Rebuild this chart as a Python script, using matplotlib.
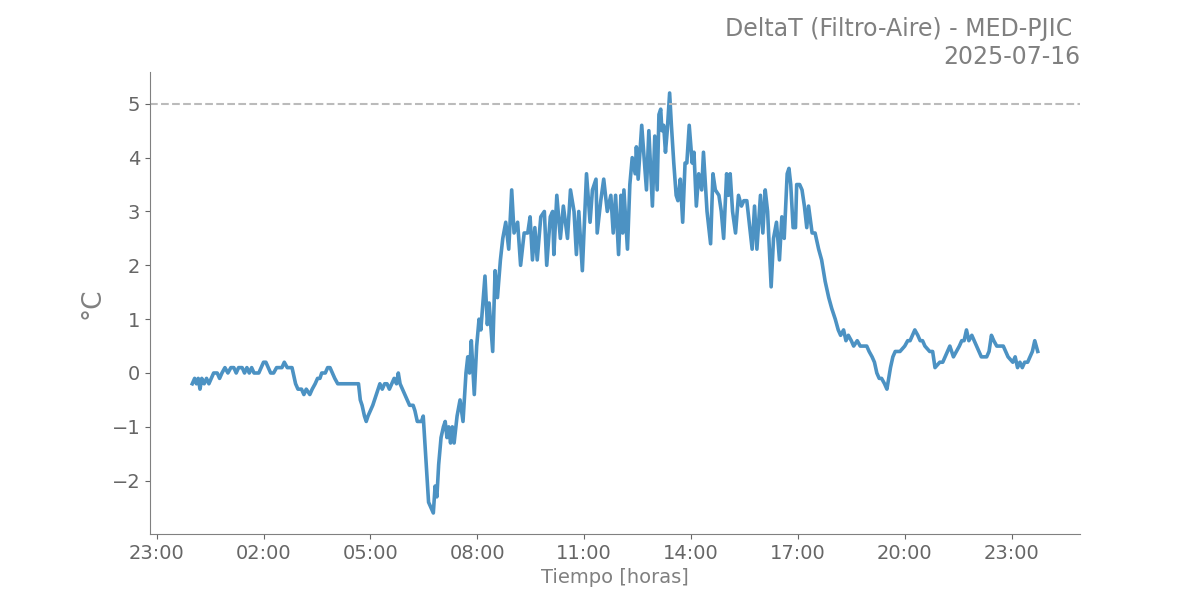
import matplotlib
matplotlib.use("Agg")
import matplotlib.pyplot as plt
import matplotlib.dates as mdates
import pandas as pd

fecha = "2025-07-16"
estacion = "MED-PJIC"
umbral = 5.0

horas = [
    "00:00", "00:04", "00:07", "00:10", "00:13", "00:16", "00:20", "00:24", "00:28", "00:32",
    "00:36", "00:42", "00:46", "00:50", "00:55", "01:00", "01:05", "01:10", "01:14", "01:18",
    "01:24", "01:28", "01:32", "01:36", "01:40", "01:44", "01:52", "01:56", "02:00", "02:04",
    "02:08", "02:12", "02:17", "02:22", "02:27", "02:31", "02:35", "02:40", "02:48", "02:54",
    "02:58", "03:04", "03:08", "03:12", "03:18", "03:22", "03:27", "03:31", "03:35", "03:38",
    "03:44", "03:48", "03:52", "03:56", "04:00", "04:05", "04:40", "04:43", "04:46", "04:50",
    "04:53", "04:56", "05:00", "05:04", "05:07", "05:10", "05:13", "05:16", "05:20", "05:24",
    "05:28", "05:32", "05:36", "05:40", "05:44", "05:47", "05:50", "05:54", "05:58", "06:02",
    "06:06", "06:12", "06:15", "06:19", "06:26", "06:29", "06:33", "06:38", "06:42", "06:46",
    "06:49", "06:52", "06:55", "06:59", "07:03", "07:06", "07:09", "07:12", "07:15", "07:18",
    "07:21", "07:26", "07:31", "07:36", "07:41", "07:44", "07:47", "07:50", "07:55", "07:59",
    "08:03", "08:06", "08:13", "08:17", "08:20", "08:26", "08:30", "08:34", "08:39", "08:43",
    "08:48", "08:53", "08:58", "09:02", "09:08", "09:13", "09:19", "09:25", "09:29", "09:33",
    "09:37", "09:41", "09:47", "09:53", "09:57", "10:03", "10:07", "10:09", "10:14", "10:20",
    "10:25", "10:32", "10:37", "10:43", "10:47", "10:51", "10:57", "11:04", "11:10", "11:14",
    "11:20", "11:22", "11:28", "11:33", "11:39", "11:45", "11:49", "11:53", "11:58", "12:02",
    "12:05", "12:07", "12:13", "12:17", "12:21", "12:26", "12:28", "12:31", "12:37", "12:41",
    "12:45", "12:49", "12:55", "12:59", "13:03", "13:06", "13:09", "13:11", "13:14", "13:17",
    "13:20", "13:24", "13:27", "13:31", "13:35", "13:38", "13:42", "13:46", "13:50", "13:53",
    "13:57", "14:02", "14:05", "14:09", "14:13", "14:18", "14:21", "14:27", "14:33", "14:37",
    "14:41", "14:47", "14:51", "14:55", "15:00", "15:03", "15:06", "15:10", "15:15", "15:20",
    "15:25", "15:29", "15:34", "15:37", "15:43", "15:47", "15:51", "15:57", "16:01", "16:05",
    "16:09", "16:15", "16:19", "16:24", "16:29", "16:33", "16:37", "16:42", "16:45", "16:48",
    "16:52", "16:56", "16:58", "17:03", "17:07", "17:11", "17:15", "17:18", "17:24", "17:29",
    "17:35", "17:40", "17:46", "17:52", "17:57", "18:03", "18:08", "18:12", "18:17", "18:21",
    "18:25", "18:30", "18:34", "18:40", "18:45", "18:50", "18:56", "19:00", "19:05", "19:09",
    "19:13", "19:17", "19:21", "19:26", "19:30", "19:33", "19:36", "19:40", "19:44", "19:52",
    "20:00", "20:05", "20:09", "20:13", "20:17", "20:22", "20:26", "20:30", "20:34", "20:42",
    "20:47", "20:51", "20:59", "21:04", "21:08", "21:16", "21:22", "21:27", "21:32", "21:36",
    "21:40", "21:44", "21:48", "21:53", "22:01", "22:05", "22:09", "22:18", "22:22", "22:26",
    "22:30", "22:35", "22:46", "22:50", "22:54", "23:02", "23:06", "23:10", "23:14", "23:18",
    "23:22", "23:27", "23:31", "23:35", "23:39", "23:44",
]

delta_t = [
    -0.2, -0.1, -0.2, -0.1, -0.3, -0.1, -0.2, -0.1, -0.2, -0.1,
    0.0, 0.0, -0.1, 0.0, 0.1, 0.0, 0.1, 0.1, 0.0, 0.1,
    0.1, 0.0, 0.1, 0.0, 0.1, 0.0, 0.0, 0.1, 0.2, 0.2,
    0.1, 0.0, 0.0, 0.1, 0.1, 0.1, 0.2, 0.1, 0.1, -0.2,
    -0.3, -0.3, -0.4, -0.3, -0.4, -0.3, -0.2, -0.1, -0.1, 0.0,
    0.0, 0.1, 0.1, 0.0, -0.1, -0.2, -0.2, -0.5, -0.6, -0.8,
    -0.9, -0.8, -0.7, -0.6, -0.5, -0.4, -0.3, -0.2, -0.3, -0.2,
    -0.2, -0.3, -0.2, -0.1, -0.2, 0.0, -0.2, -0.3, -0.4, -0.5,
    -0.6, -0.6, -0.7, -0.9, -0.9, -0.8, -1.5, -2.4, -2.5, -2.6,
    -2.1, -2.3, -1.7, -1.2, -1.0, -0.9, -1.2, -1.0, -1.3, -1.0,
    -1.3, -0.8, -0.5, -0.9, 0.0, 0.3, 0.0, 0.6, -0.4, 0.5,
    1.0, 0.8, 1.8, 0.9, 1.3, 0.4, 1.9, 1.4, 2.1, 2.5,
    2.8, 2.3, 3.4, 2.6, 2.8, 2.0, 2.6, 2.6, 2.9, 2.1,
    2.7, 2.1, 2.9, 3.0, 2.0, 2.9, 3.0, 2.2, 3.3, 2.5,
    3.1, 2.5, 3.4, 3.0, 2.2, 3.0, 1.9, 3.7, 2.8, 3.4,
    3.6, 2.6, 3.2, 3.6, 3.0, 3.3, 2.6, 3.3, 2.2, 3.3,
    2.6, 3.4, 2.3, 3.5, 4.0, 3.7, 4.2, 3.6, 4.6, 4.0,
    3.4, 4.5, 3.1, 4.4, 3.4, 4.8, 4.9, 4.5, 4.6, 4.1,
    4.5, 5.2, 4.6, 3.9, 3.3, 3.2, 3.6, 2.8, 3.9, 3.9,
    4.6, 3.9, 4.1, 3.1, 3.7, 3.4, 4.1, 3.0, 2.4, 3.7,
    3.4, 3.3, 3.0, 2.5, 3.7, 3.3, 3.7, 3.0, 2.6, 3.3,
    3.1, 3.2, 3.2, 2.9, 2.3, 3.1, 2.3, 3.3, 2.6, 3.4,
    3.0, 1.6, 2.5, 2.8, 2.1, 2.9, 2.5, 3.7, 3.8, 3.5,
    2.7, 2.7, 3.5, 3.5, 3.4, 3.1, 2.7, 3.1, 2.6, 2.6,
    2.3, 2.1, 1.7, 1.4, 1.2, 1.0, 0.8, 0.7, 0.8, 0.6,
    0.7, 0.6, 0.5, 0.6, 0.5, 0.5, 0.5, 0.4, 0.3, 0.2,
    0.0, -0.1, -0.1, -0.2, -0.3, -0.1, 0.1, 0.3, 0.4, 0.4,
    0.5, 0.6, 0.6, 0.7, 0.8, 0.7, 0.6, 0.6, 0.5, 0.4,
    0.4, 0.1, 0.2, 0.2, 0.3, 0.5, 0.3, 0.4, 0.5, 0.6,
    0.6, 0.8, 0.6, 0.7, 0.5, 0.4, 0.3, 0.3, 0.4, 0.7,
    0.6, 0.5, 0.5, 0.4, 0.3, 0.2, 0.3, 0.1, 0.2, 0.1,
    0.2, 0.2, 0.3, 0.4, 0.6, 0.4,
]

tiempos = pd.to_datetime([f"{fecha} {h}" for h in horas])

gris = "grey"

fig, ax = plt.subplots(figsize=(12, 6), dpi=100)
ax.plot(tiempos, delta_t, color="tab:blue", alpha=0.8, linewidth=2.6)
ax.axhline(umbral, color="#bbbbbb", linestyle="--", linewidth=1.5)

ax.set_title(f"DeltaT (Filtro-Aire) - {estacion} \n{fecha}", loc="right",
             fontsize=17, color=gris)
ax.set_xlabel("Tiempo [horas]", fontsize=14, color=gris)
ax.set_ylabel("°C", fontsize=19, color=gris)

ax.xaxis.set_major_locator(mdates.HourLocator(byhour=[2, 5, 8, 11, 14, 17, 20, 23]))
ax.xaxis.set_major_formatter(mdates.DateFormatter("%H:%M"))
ax.tick_params(axis="both", labelsize=14, colors="#666666")

for lado in ["top", "right"]:
    ax.spines[lado].set_visible(False)
for lado in ["left", "bottom"]:
    ax.spines[lado].set_color(gris)

plt.savefig("out.png")
plt.close()
